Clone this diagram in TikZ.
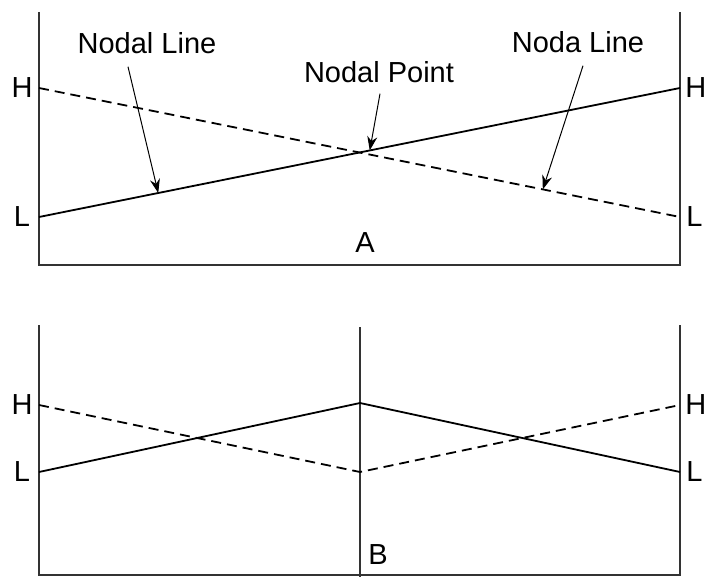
\documentclass[tikz,border=0pt]{standalone}
\usepackage{fontspec}
\setmainfont{Liberation Sans}
\usetikzlibrary{arrows.meta}

\begin{document}
\begin{tikzpicture}[x=0.5pt, y=-0.5pt, font=\fontsize{14.5}{16}\selectfont,
        frame/.style={line width=0.6pt, black!80},
        wave/.style={line width=0.9pt},
        wavedash/.style={wave, dash pattern=on 5pt off 3pt},
        pointer/.style={-{Stealth[length=7pt, width=5pt]}, line width=0.5pt},
        side/.style={inner sep=0pt}]
        \useasboundingbox (0,0) rectangle (705,577);
        % panel A
        \coordinate (aTL) at (39,12);
        \coordinate (aBL) at (39,265);
        \coordinate (aBR) at (680,265);
        \coordinate (aTR) at (680,12);
        \coordinate (aHL) at (39,88);
        \coordinate (aLL) at (39,217);
        \coordinate (aHR) at (680,88);
        \coordinate (aLR) at (680,217);
        \draw[frame] (aTL) -- (aBL) -- (aBR) -- (aTR);
        \draw[wave] (aLL) -- (aHR)
          coordinate[pos=0.186] (tipLine)
          coordinate[pos=0.516] (tipPoint);
        \draw[wavedash] (aHL) -- (aLR)
          coordinate[pos=0.786] (tipNoda);
        \node[side] (hA) at (22,88) {H};
        \node[side] (lA) at (22,217) {L};
        \node[side, anchor=west] (hAr) at (685,88) {H};
        \node[side, anchor=west] (lAr) at (686,217) {L};
        \node (nameA) at (365,243) {A};

        \node (nodalLine) at (147,43) {Nodal Line};
        \node (nodalPoint) at (379,72) {Nodal Point};
        \node (nodaLine) at (578,42) {Noda Line};
        \draw[pointer] ([xshift=-9.5pt, yshift=-3pt]nodalLine.south) -- (tipLine);
        \draw[pointer] ([xshift=0.5pt, yshift=-2pt]nodalPoint.south) -- (tipPoint);
        \draw[pointer] ([xshift=2.5pt, yshift=-3pt]nodaLine.south) -- (tipNoda);

        % panel B
        \coordinate (bTL) at (39,325);
        \coordinate (bBL) at (39,575);
        \coordinate (bBR) at (680,575);
        \coordinate (bTR) at (680,325);
        \coordinate (bTM) at (360,327);
        \coordinate (bBM) at (360,577);
        \coordinate (bHL) at (39,405);
        \coordinate (bLL) at (39,472);
        \coordinate (bHM) at (360,403);
        \coordinate (bLM) at (360,472);
        \coordinate (bHR) at (680,405);
        \coordinate (bLR) at (680,472);
        \draw[frame] (bTL) -- (bBL) -- (bBR) -- (bTR);
        \draw[frame] (bTM) -- (bBM);
        \draw[wave] (bLL) -- (bHM) -- (bLR);
        \draw[wavedash] (bHL) -- (bLM) -- (bHR);
        \node[side] (hB) at (22,405) {H};
        \node[side] (lB) at (22,472) {L};
        \node[side, anchor=west] (hBr) at (685,405) {H};
        \node[side, anchor=west] (lBr) at (686,472) {L};
        \node[side, anchor=west] (nameB) at (368,555) {B};
\end{tikzpicture}
\end{document}
